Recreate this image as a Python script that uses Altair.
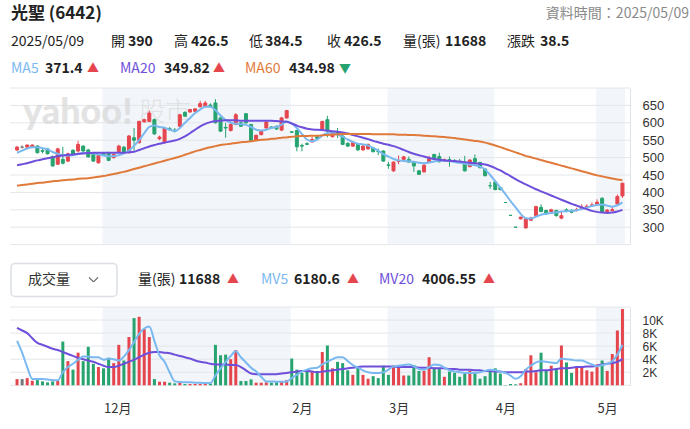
import altair as alt
import pandas as pd
import numpy as np

FONT = "Noto Sans CJK TC"
AXIS_FONT = "Liberation Sans"
RED = "#e5464e"
GREEN = "#26a36f"
FLAT = "#777777"
C_MA5 = "#7ab8f0"
C_MA20 = "#6e4fdb"
C_MA60 = "#e07a3a"
GRID = "#e3e6ea"
BAND = "#f2f5f9"
INK = "#222222"

# ---- trading days -------------------------------------------------------
nov = [7, 8, 11, 12, 13, 14, 15, 18, 19, 20, 21, 22, 25, 26, 27, 28, 29]
dec = [2, 3, 4, 5, 6, 9, 10, 11, 12, 13, 16, 17, 18, 19, 20, 23, 24, 25, 26, 27, 30, 31]
jan = [2, 3, 6, 7, 8, 9, 10, 13, 14, 15, 16, 17, 20, 21, 22]
feb = [3, 4, 5, 6, 7, 10, 11, 12, 13, 14, 17, 18, 19, 20, 21, 24, 25, 26, 27]
mar = [3, 4, 5, 6, 7, 10, 11, 12, 13, 14, 17, 18, 19, 20, 21, 24, 25, 26, 27, 28, 31]
apr = [1, 2, 7, 8, 9, 10, 11, 14, 15, 16, 17, 18, 21, 22, 23, 24, 25, 28, 29, 30]
may = [2, 5, 6, 7, 8, 9]
dates = ([f"2024-11-{d:02d}" for d in nov] + [f"2024-12-{d:02d}" for d in dec]
         + [f"2025-01-{d:02d}" for d in jan] + [f"2025-02-{d:02d}" for d in feb]
         + [f"2025-03-{d:02d}" for d in mar] + [f"2025-04-{d:02d}" for d in apr]
         + [f"2025-05-{d:02d}" for d in may])

label_months = ["2024-12", "2025-02", "2025-03", "2025-04", "2025-05"]
label_texts = ["12月", "2月", "3月", "4月", "5月"]

# ---- daily prices ---------------------------------------------------------
opens = [522, 530, 530, 531, 533, 520, 525, 503, 481, 495, 490, 521, 519, 533, 522, 509, 485,
         512, 514, 500, 517, 530, 514, 557, 543, 603, 604, 609, 554, 543, 583, 579, 590, 630,
         631, 633, 646, 647, 651, 657, 614, 587, 578, 595, 600, 626, 595, 550, 566, 585, 588,
         590, 579, 614, 574, 578, 535, 540, 545, 560, 581, 609, 560, 573, 562, 541, 533, 538,
         522, 525, 528, 518, 519, 479, 462, 489, 495, 495, 486, 462, 459, 488, 509, 503, 493,
         494, 492, 488, 487, 474, 497, 486, 467, 419, 430, 414, 371, 334, 300, 324, 298, 320,
         333, 357, 348, 345, 348, 326, 350, 348, 349, 353, 357, 362, 366, 383, 345, 348, 367, 390]
highs = [534, 535, 538, 538, 536, 526, 528, 506, 528, 531, 514, 524, 548, 536, 525, 512, 508,
         516, 517, 512, 537, 533, 565, 585, 606, 612, 635, 612, 563, 588, 588, 585, 626, 633,
         640, 642, 663, 663, 656, 668, 618, 600, 598, 628, 603, 628, 597, 566, 578, 605, 590,
         592, 617, 637, 576, 580, 540, 544, 560, 565, 606, 620, 573, 585, 565, 544, 545, 540,
         537, 540, 530, 526, 521, 488, 489, 506, 505, 503, 488, 464, 481, 505, 511, 514, 497,
         503, 495, 496, 505, 495, 509, 488, 469, 430, 432, 416, 371, 334, 300, 330, 326, 330,
         362, 366, 350, 353, 350, 345, 354, 352, 356, 366, 366, 371, 380, 386, 352, 358, 394, 426.5]
lows = [519, 526, 528, 529, 512, 512, 509, 474, 479, 480, 487, 505, 515, 517, 500, 488, 483,
        505, 490, 497, 515, 512, 512, 520, 540, 600, 602, 566, 550, 540, 578, 572, 588, 617,
        629, 631, 644, 645, 645, 598, 574, 557, 575, 593, 588, 598, 545, 548, 564, 583, 582,
        580, 577, 612, 570, 518, 518, 536, 543, 550, 578, 558, 558, 556, 536, 531, 531, 520,
        520, 523, 515, 507, 488, 468, 459, 481, 493, 485, 459, 450, 457, 486, 493, 486, 490,
        474, 487, 485, 460, 472, 480, 469, 446, 410, 406, 406, 371, 334, 300, 322, 296, 318,
        331, 343, 336, 340, 331, 323, 343, 340, 345, 350, 352, 358, 364, 341, 343, 345, 364, 384.5]
closes = [530, 530, 536, 536, 514, 518, 511, 476, 525, 484, 511, 507, 538, 519, 502, 490, 506,
          507, 492, 509, 533, 514, 562, 550, 604, 609, 628, 568, 559, 585, 580, 576, 623, 619,
          638, 640, 655, 657, 647, 600, 576, 585, 595, 623, 590, 600, 547, 564, 576, 602, 585,
          582, 614, 635, 573, 531, 533, 538, 552, 555, 604, 576, 571, 566, 538, 533, 543, 522,
          533, 538, 517, 517, 490, 478, 487, 490, 502, 487, 476, 452, 478, 497, 495, 488, 494,
          490, 488, 487, 462, 493, 486, 471, 448, 419, 408, 408, 371, 334, 300, 329, 324, 326,
          359, 345, 338, 350, 333, 333, 345, 343, 351, 358, 360, 364, 372, 343, 349, 350.5, 388, 426.5]
volumes = [950, 950, 1100, 700, 800, 600, 450, 600, 700, 6700, 3700, 2400, 5000, 3700, 5900,
           3300, 2800, 2600, 4200, 3400, 6200, 3800, 7400, 10300, 10500, 8600, 7400, 950, 550,
           550, 400, 300, 550, 200, 200, 200, 200, 250, 250, 6200, 4600, 4700, 4000, 5400, 650,
           650, 900, 400, 400, 450, 400, 450, 600, 800, 4100, 2400, 1900, 2400, 2200, 2200, 5100,
           6100, 2600, 3600, 3400, 2300, 1600, 2800, 1600, 1000, 1400, 1100, 3000, 1600, 3000,
           2800, 1500, 1500, 3100, 2200, 2200, 4300, 2700, 2600, 1300, 2100, 1900, 1300, 1800,
           2200, 1800, 1000, 1400, 2100, 2600, 1800, 50, 200, 150, 300, 2500, 4600, 2000, 5000,
           2300, 3000, 2600, 6100, 3500, 1900, 2800, 2800, 2300, 2100, 3200, 3800, 2200, 4800,
           8400, 11688]

# ---- moving averages of price ------------------------------------------------
ma5 = [514, 520, 526, 530, 530, 527, 524, 516, 511, 507, 506, 507, 510, 513, 514, 512, 509,
       506, 504, 504, 507, 512, 520, 534, 550, 570, 588, 592, 588, 586, 580, 576, 585, 600,
       614, 628, 638, 646, 646, 636, 621, 608, 600, 597, 596, 594, 588, 580, 578, 580, 585,
       588, 595, 604, 598, 585, 568, 552, 547, 552, 563, 571, 572, 566, 560, 552, 545, 540,
       538, 535, 528, 520, 510, 503, 496, 492, 490, 489, 488, 485, 484, 486, 489, 491, 491,
       490, 487, 485, 482, 480, 478, 474, 466, 450, 432, 414, 395, 375, 357, 338, 326, 325,
       330, 336, 339, 341, 343, 345, 346, 347, 349, 352, 356, 361, 364, 365, 362, 359, 363, 371.4]
ma20 = [478, 481, 484, 488, 492, 495, 498, 501, 504, 506, 508, 509, 511, 512, 513, 514, 514,
        514, 514, 514, 514, 514, 515, 517, 522, 527, 532, 536, 540, 543, 546, 549, 554, 561,
        570, 580, 590, 597, 602, 605, 606, 607, 607, 607, 606, 606, 606, 606, 606, 606, 606,
        605, 604, 603, 598, 592, 587, 583, 581, 580, 579, 578, 576, 574, 572, 569, 565, 561,
        557, 553, 548, 544, 540, 537, 533, 528, 522, 516, 511, 507, 503, 499, 496, 494, 492,
        491, 490, 489, 487, 485, 484, 482, 480, 476, 470, 463, 455, 447, 438, 430, 423, 416,
        409, 403, 397, 391, 385, 379, 373, 367, 362, 357, 352, 347, 344, 342, 341, 342, 345, 349.82]
ma60 = [419, 421, 423, 425, 427, 428, 430, 432, 433, 435, 436, 437, 439, 440, 441, 443, 445,
        447, 450, 453, 456, 459, 463, 467, 471, 475, 479, 483, 487, 491, 495, 499, 503, 508,
        513, 518, 522, 526, 530, 533, 536, 538, 540, 542, 544, 545, 547, 549, 551, 552, 554,
        555, 557, 558, 560, 561, 562, 562, 563, 563, 564, 565, 566, 567, 568, 568, 568, 568,
        568, 568, 567, 567, 567, 567, 567, 566, 566, 565, 565, 564, 563, 562, 561, 560, 559,
        558, 556, 554, 552, 550, 548, 546, 543, 539, 535, 530, 525, 520, 515, 510, 505, 501,
        497, 493, 489, 485, 481, 477, 473, 469, 465, 461, 457, 453, 449, 446, 443, 440, 437, 434.98]

# ---- moving averages of volume -----------------------------------------------
mv5 = [6800, 5000, 2800, 960, 950, 960, 900, 780, 760, 2000, 2800, 3300, 3900, 4400, 4400,
       4300, 4300, 3900, 4100, 4000, 3800, 4400, 5400, 6600, 7900, 8700, 9000, 6800, 4600,
       3600, 2000, 600, 500, 450, 450, 400, 380, 350, 350, 1500, 2600, 3600, 4500, 5200, 4300,
       3500, 2700, 2100, 1300, 600, 600, 550, 550, 600, 1100, 1600, 2100, 2400, 2600, 2700,
       3200, 3600, 4000, 4300, 4300, 3700, 3100, 2700, 2300, 2000, 1900, 1900, 2000, 2400,
       2900, 3000, 3100, 3200, 2900, 2500, 2400, 2800, 3200, 3100, 2700, 2300, 2100, 2000,
       1900, 1900, 1900, 2000, 2200, 2400, 2300, 2100, 1900, 1500, 1000, 1400, 2400, 3000,
       3500, 3700, 3600, 3500, 3400, 4100, 4000, 3900, 3800, 3800, 3500, 3200, 2900, 3100,
       3300, 3700, 4700, 6180.6]
mv20 = [8800, 8400, 8000, 7200, 6500, 6200, 5900, 5600, 5400, 5100, 4800, 4500, 4200, 4000,
        3800, 3600, 3300, 3000, 2800, 2800, 3000, 3300, 3600, 3900, 4300, 4700, 5000, 5100,
        5100, 5000, 4900, 4700, 4500, 4300, 4100, 3800, 3600, 3500, 3300, 3200, 3200, 3200,
        3100, 3100, 2800, 2300, 1800, 1700, 1700, 1700, 1700, 1700, 1800, 1900, 2000, 2100,
        2200, 2200, 2100, 2000, 2100, 2200, 2300, 2400, 2500, 2600, 2700, 2800, 2900, 2900,
        2900, 2900, 2900, 2900, 2900, 2800, 2800, 2800, 2800, 2700, 2700, 2700, 2600, 2600,
        2600, 2500, 2500, 2400, 2400, 2400, 2300, 2300, 2200, 2200, 2100, 2100, 2000, 2000,
        2000, 2000, 2100, 2100, 2200, 2300, 2300, 2400, 2500, 2600, 2600, 2700, 2800, 2800,
        2900, 2900, 3000, 3200, 3300, 3400, 3600, 4006.55]

price_ticks = [250, 300, 350, 400, 450, 500, 550, 600, 650, 700]
volume_ticks = [0, 2000, 4000, 6000, 8000, 10000, 12000]

# ---- tables --------------------------------------------------------------------
n = len(dates)
df = pd.DataFrame({"date": dates, "open": opens, "high": highs, "low": lows,
                   "close": closes, "vol": volumes})
df["i"] = np.arange(1, n + 1)
prev = df["close"].shift(1)
df["dir"] = np.select(
    [df["close"] > df["open"], df["close"] < df["open"], df["close"] > prev, df["close"] < prev],
    ["up", "down", "up", "down"], default="flat")

ma_df = pd.concat([
    pd.DataFrame({"i": df["i"], "v": ma5, "s": "MA5"}),
    pd.DataFrame({"i": df["i"], "v": ma20, "s": "MA20"}),
    pd.DataFrame({"i": df["i"], "v": ma60, "s": "MA60"}),
])
mv_df = pd.concat([
    pd.DataFrame({"i": df["i"], "v": mv20, "s": "MV20"}),
    pd.DataFrame({"i": df["i"], "v": mv5, "s": "MV5"}),
])

tick_idx = [int(df.index[df["date"].str.startswith(m)][0]) + 1 for m in label_months]
edges = [0.5] + [t - 0.2 for t in tick_idx] + [n + 0.5]
bands = pd.DataFrame({"a": edges[:-1], "b": edges[1:]})
bands = bands.iloc[1::2]

label_expr = "''"
for t, s in zip(reversed(tick_idx), reversed(label_texts)):
    label_expr = f"datum.value == {t} ? '{s}' : ({label_expr})"

W = 620
H_PRICE = 156.6
H_VOL = 78.3
TOP_H = 88
VH0 = TOP_H + H_PRICE          # top of the volume header row
VOL_TOP = 305.7                # top of the volume plot
XS = alt.Scale(domain=[0.6, n + 0.5], nice=False, zero=False)
DIRS = alt.Scale(domain=["up", "down", "flat"], range=[RED, GREEN, FLAT])

AX_RIGHT = dict(orient="right", grid=False, ticks=False, tickSize=0, domain=True,
                domainColor="#dfe2e6", labelPadding=12, labelColor="#333",
                labelFont=AXIS_FONT, title=None)
P_AXIS = alt.Axis(values=price_ticks[1:-1], labelFontSize=13, **AX_RIGHT)
V_AXIS = alt.Axis(values=volume_ticks[1:-1], labelExpr="datum.value / 1000 + 'K'",
                  labelFontSize=12, **AX_RIGHT)
X_AXIS = alt.Axis(values=tick_idx, labelExpr=label_expr, grid=False, ticks=False, tickSize=0,
                  domain=False, labelAlign="left", labelPadding=17, labelFontSize=13,
                  labelColor="#333", labelFont=FONT, title=None)

# ---- price panel ------------------------------------------------------------------
p_y = alt.Scale(domain=[250, 700], nice=False, zero=False)

p_band = alt.Chart(bands).mark_rect(color=BAND, clip=True).encode(
    x=alt.X("a:Q", scale=XS, axis=None), x2="b:Q",
    y=alt.value(0), y2=alt.value(H_PRICE))
p_grid = alt.Chart(pd.DataFrame({"g": price_ticks})).mark_rule(color=GRID, strokeWidth=1).encode(
    y=alt.Y("g:Q", scale=p_y, axis=P_AXIS))
watermark = alt.layer(
    alt.Chart(pd.DataFrame({"t": ["yahoo!"]})).mark_text(
        align="left", baseline="middle", font="Lato", fontSize=36, fontWeight=900,
        color="#d2d2d2", opacity=0.6).encode(x=alt.value(13), y=alt.value(25), text="t:N"),
    alt.Chart(pd.DataFrame({"t": ["股市"]})).mark_text(
        align="left", baseline="middle", font=FONT, fontSize=26, fontWeight=300,
        color="#d6d6d6", opacity=0.6).encode(x=alt.value(129), y=alt.value(25), text="t:N"),
)
wicks = alt.Chart(df).mark_rule(strokeWidth=1).encode(
    x=alt.X("i:Q", scale=XS, axis=None),
    y=alt.Y("low:Q", scale=p_y, axis=P_AXIS), y2="high:Q",
    color=alt.Color("dir:N", scale=DIRS, legend=None))
bodies = alt.Chart(df).mark_bar(size=3, strokeWidth=1).encode(
    x=alt.X("i:Q", scale=XS, axis=None),
    y=alt.Y("open:Q", scale=p_y, axis=P_AXIS), y2="close:Q",
    color=alt.Color("dir:N", scale=DIRS, legend=None),
    stroke=alt.Stroke("dir:N", scale=DIRS, legend=None))
ma_lines = alt.Chart(ma_df).mark_line(strokeWidth=2, interpolate="monotone").encode(
    x=alt.X("i:Q", scale=XS, axis=None),
    y=alt.Y("v:Q", scale=p_y, axis=P_AXIS),
    color=alt.Color("s:N", scale=alt.Scale(domain=["MA60", "MA20", "MA5"],
                                           range=[C_MA60, C_MA20, C_MA5]), legend=None),
    order=alt.Order("i:Q"))
price = alt.layer(p_band, p_grid, watermark, wicks, bodies, ma_lines).resolve_scale(
    color="independent", stroke="independent").properties(width=W, height=H_PRICE)

# ---- volume panel -----------------------------------------------------------------
v_y = alt.Scale(domain=[0, 12000], nice=False)
v_band = alt.Chart(bands).mark_rect(color=BAND, clip=True).encode(
    x=alt.X("a:Q", scale=XS, axis=X_AXIS), x2="b:Q",
    y=alt.value(0), y2=alt.value(H_VOL))
v_grid = alt.Chart(pd.DataFrame({"g": volume_ticks})).mark_rule(color=GRID, strokeWidth=1).encode(
    y=alt.Y("g:Q", scale=v_y, axis=V_AXIS))
vol_bars = alt.Chart(df).mark_bar(size=3).encode(
    x=alt.X("i:Q", scale=XS, axis=X_AXIS),
    y=alt.Y("vol:Q", scale=v_y, axis=V_AXIS),
    color=alt.Color("dir:N", scale=DIRS, legend=None))
mv_lines = alt.Chart(mv_df).mark_line(strokeWidth=2, interpolate="monotone").encode(
    x=alt.X("i:Q", scale=XS, axis=X_AXIS),
    y=alt.Y("v:Q", scale=v_y, axis=V_AXIS),
    color=alt.Color("s:N", scale=alt.Scale(domain=["MV20", "MV5"], range=[C_MA20, C_MA5]),
                    legend=None),
    order=alt.Order("i:Q"))
volume = alt.layer(v_band, v_grid, vol_bars, mv_lines).resolve_scale(
    color="independent").properties(width=W, height=H_VOL)


# ---- header rows --------------------------------------------------------------------
def label(text, x, y, size=14, weight="normal", color=INK, align="left", font=FONT):
    return alt.Chart(pd.DataFrame({"t": [text]})).mark_text(
        align=align, baseline="middle", fontSize=size, fontWeight=weight, color=color,
        font=font).encode(x=alt.value(x - 9), y=alt.value(y), text="t:N")


last = df.iloc[-1]
change = last["close"] - df.iloc[-2]["close"]
fmt = lambda v: f"{v:g}"
top_items = [
    label("光聖 (6442)", 10, 14, size=17, weight="bold"),
    label("資料時間：2025/05/09", 688, 14, size=14, color="#8a8a8a", align="right"),
    label(last["date"].replace("-", "/"), 10, 42),
    label("開", 110, 42), label(fmt(last["open"]), 127, 42, weight="bold"),
    label("高", 173, 42), label(fmt(last["high"]), 190, 42, weight="bold"),
    label("低", 248, 42), label(fmt(last["low"]), 264, 42, weight="bold"),
    label("收", 326, 42), label(fmt(last["close"]), 343, 42, weight="bold"),
    label("量(張)", 402, 42), label(fmt(last["vol"]), 444, 42, weight="bold"),
    label("漲跌", 506, 42), label(fmt(change), 539, 42, weight="bold"),
    label("MA5", 10, 69, color=C_MA5), label(fmt(ma5[-1]), 44, 69, weight="bold"),
    label("▲", 86, 69, size=12, color=RED),
    label("MA20", 119, 69, color=C_MA20), label(fmt(ma20[-1]), 163, 69, weight="bold"),
    label("▲", 212, 69, size=12, color=RED),
    label("MA60", 244, 69, color=C_MA60), label(fmt(ma60[-1]), 288, 69, weight="bold"),
    label("▼", 338, 69, size=12, color=GREEN),
]
header = alt.layer(*top_items).properties(width=W, height=TOP_H)

box = alt.Chart(pd.DataFrame({"k": [0]})).mark_rect(
    fill="white", stroke="#dcdfe3", strokeWidth=1.5, cornerRadius=4).encode(
    x=alt.value(10 - 9), x2=alt.value(116 - 9),
    y=alt.value(263 - VH0), y2=alt.value(296 - VH0))
chev1 = alt.Chart(pd.DataFrame({"k": [0]})).mark_rule(color="#666", strokeWidth=1.2).encode(
    x=alt.value(88 - 9), x2=alt.value(92.5 - 9),
    y=alt.value(277 - VH0), y2=alt.value(281.5 - VH0))
chev2 = alt.Chart(pd.DataFrame({"k": [0]})).mark_rule(color="#666", strokeWidth=1.2).encode(
    x=alt.value(92.5 - 9), x2=alt.value(97 - 9),
    y=alt.value(281.5 - VH0), y2=alt.value(277 - VH0))
vy = 279.5 - VH0
vol_items = [
    box, chev1, chev2,
    label("成交量", 27, vy, color="#333"),
    label("量(張)", 137, vy), label(fmt(last["vol"]), 178, vy, weight="bold"),
    label("▲", 226, vy, size=12, color=RED),
    label("MV5", 260, vy, color=C_MA5), label(fmt(mv5[-1]), 293, vy, weight="bold"),
    label("▲", 346, vy, size=12, color=RED),
    label("MV20", 378, vy, color=C_MA20), label(fmt(mv20[-1]), 421, vy, weight="bold"),
    label("▲", 482, vy, size=12, color=RED),
]
vol_header = alt.layer(*vol_items).properties(width=W, height=VOL_TOP - VH0)

chart = alt.vconcat(header, price, vol_header, volume, spacing=0, bounds="flush").properties(
    padding={"left": 9, "top": 0, "right": 0, "bottom": 0},
    background="white",
).configure_view(stroke=None)

chart.save("out.html", embed_options={"renderer": "svg", "actions": False})
